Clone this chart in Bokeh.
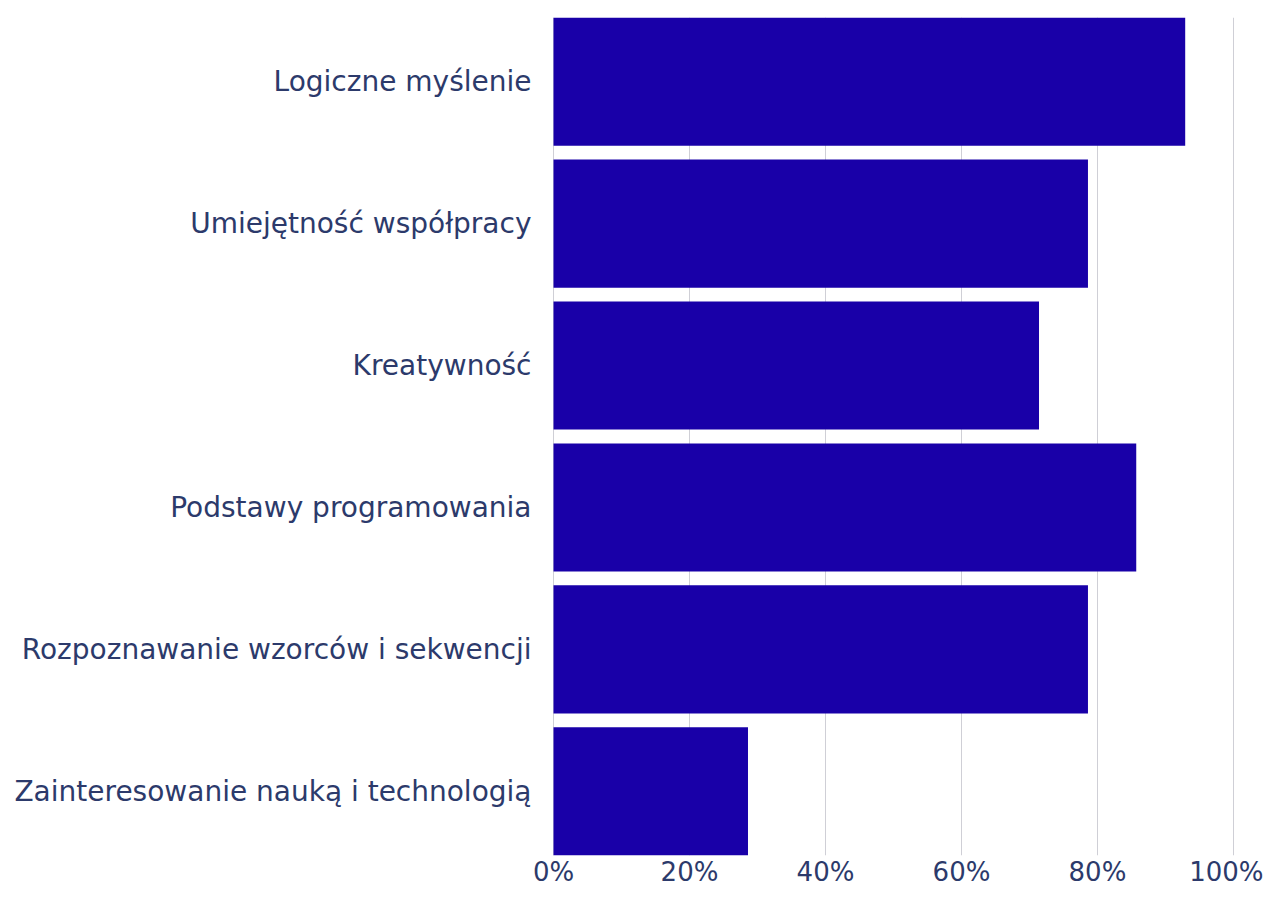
from bokeh.plotting import figure
from bokeh.models import Range1d, FixedTicker, NumeralTickFormatter, ColumnDataSource
from bokeh.embed import file_html
from bokeh.resources import INLINE

categories = [
    "Logiczne myślenie",
    "Umiejętność współpracy",
    "Kreatywność",
    "Podstawy programowania",
    "Rozpoznawanie wzorców i sekwencji",
    "Zainteresowanie nauką i technologią",
]
values = [0.929, 0.786, 0.714, 0.857, 0.786, 0.286]
x_ticks = [0, 0.2, 0.4, 0.6, 0.8, 1.0]

BAR_H = 0.903
FONT = "DejaVu Sans"
TEXT_COLOR = "#2c3a6b"
BAR_COLOR = "#1900a8"

ypos = list(range(len(categories)))
src = ColumnDataSource(dict(y=ypos, v=values, cat=categories))

p = figure(
    width=1263, height=889,
    x_range=Range1d(-0.0015, 1.0015),
    y_range=Range1d(len(categories) - 1 + BAR_H / 2, -BAR_H / 2),
    output_backend="svg", toolbar_location=None,
    min_border_left=552, min_border_right=29, min_border_top=17, min_border_bottom=30,
)
p.outline_line_color = None
p.background_fill_color = "white"
p.border_fill_color = "white"

p.hbar(y="y", right="v", left=0, height=BAR_H, source=src, color=BAR_COLOR, line_color=None)

p.xaxis.ticker = FixedTicker(ticks=x_ticks)
p.xaxis.formatter = NumeralTickFormatter(format="0%")
p.xaxis.axis_line_color = None
p.xaxis.major_tick_line_color = None
p.xaxis.major_tick_out = 0
p.xaxis.major_tick_in = 0
p.xaxis.minor_tick_line_color = None
p.xaxis.major_label_text_font = FONT
p.xaxis.major_label_text_font_size = "26px"
p.xaxis.major_label_text_color = TEXT_COLOR
p.xaxis.major_label_standoff = 1

p.yaxis.ticker = FixedTicker(ticks=ypos)
p.yaxis.major_label_overrides = {i: c for i, c in enumerate(categories)}
p.yaxis.axis_line_color = None
p.yaxis.major_tick_line_color = None
p.yaxis.major_tick_out = 0
p.yaxis.major_tick_in = 0
p.yaxis.minor_tick_line_color = None
p.yaxis.major_label_text_font = FONT
p.yaxis.major_label_text_font_size = "28px"
p.yaxis.major_label_text_color = TEXT_COLOR
p.yaxis.major_label_standoff = 21

p.ygrid.grid_line_color = None
p.xgrid.ticker = FixedTicker(ticks=x_ticks)
p.xgrid.grid_line_color = "#cfcfd6"
p.xgrid.grid_line_width = 1

open("out.html", "w").write(file_html(p, INLINE))
